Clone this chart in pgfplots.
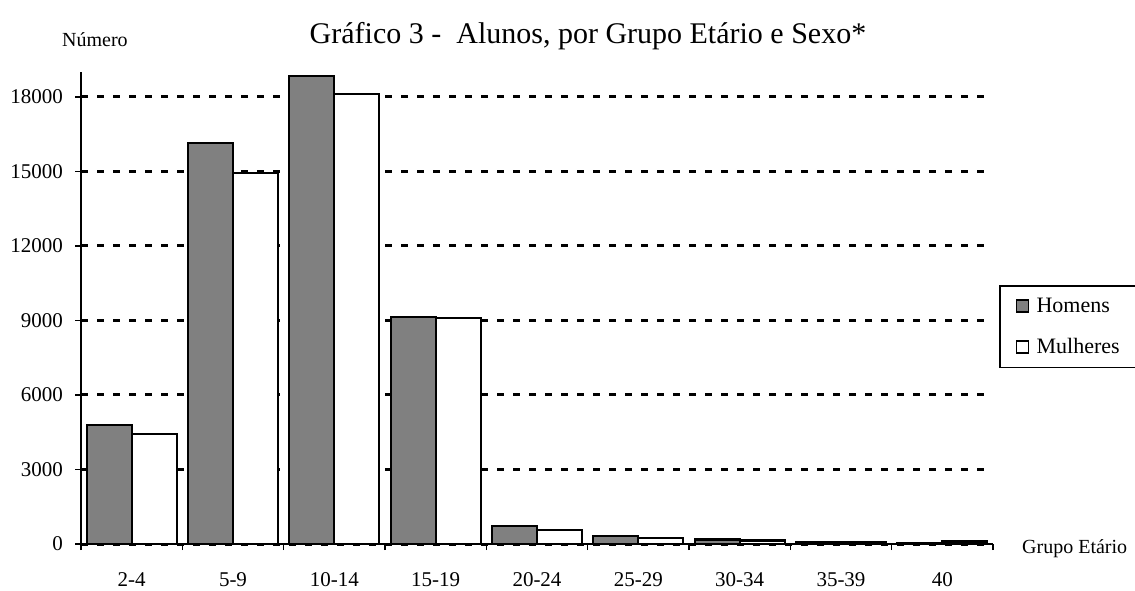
\documentclass[border=0pt]{standalone}
\usepackage{fontspec}
\setmainfont{Liberation Serif}
\usepackage{pgfplots}
\pgfplotsset{compat=1.18}
\definecolor{barGray}{RGB}{128,128,128}
\begin{document}
\begin{tikzpicture}[x=1pt,y=1pt]
\path[use as bounding box] (0,0) rectangle (1135,590);
\begin{axis}[
  at={(81pt,46pt)}, anchor=south west,
  scale only axis, width=912pt, height=472pt,
  xmin=-0.5, xmax=8.5, ymin=0, ymax=19000,
  axis x line=bottom, axis y line=left,
  axis line style={-, line width=2pt, black},
  xtick={-0.5,0.5,1.5,2.5,3.5,4.5,5.5,6.5,7.5,8.5},
  x tick label as interval,
  xticklabels={2-4,5-9,10-14,15-19,20-24,25-29,30-34,35-39,\raisebox{-5pt}{40}},
  ytick={0,3000,6000,9000,12000,15000,18000},
  scaled y ticks=false,
  tick align=inside, major tick length=6pt,
  xtick style={line width=1.5pt, black},
  ytick style={line width=1.5pt, black, xshift=-6pt},
  ymajorgrids,
  major grid style={line width=3pt, black, dash pattern=on 7pt off 9pt},
  ticklabel style={font=\fontsize{21}{25}\selectfont},
  /pgf/number format/assume math mode=true,
  /pgf/number format/1000 sep={},
  yticklabel style={inner sep=0pt, xshift=-18pt},
  xticklabel style={inner sep=0pt, anchor=north, yshift=-22pt},
  ybar=0pt, bar width=45pt,
  legend style={at={(1.0066,0.5487)}, anchor=north west, draw=black, line width=1.5pt,
    font=\fontsize{22}{26}\selectfont, inner xsep=16pt, inner ysep=10pt, row sep=21pt},
  legend cell align=left,
  legend image code/.code={\draw[#1,/tikz/.cd,line width=1.6pt] (0pt,-6pt) rectangle (12pt,6pt);
    \path[draw=none,fill=none] (12pt,0pt) -- (18pt,0pt);},
]
\addplot[fill=barGray, draw=black, line width=2.2pt] coordinates {
  (0,4800) (1,16150) (2,18850) (3,9150) (4,725) (5,320) (6,180) (7,80) (8,30)};
\addplot[fill=white, draw=black, line width=2.2pt] coordinates {
  (0,4430) (1,14940) (2,18120) (3,9100) (4,564) (5,240) (6,140) (7,80) (8,100)};
\legend{Homens,Mulheres}
\end{axis}
\node[anchor=base, font=\fontsize{30}{36}\selectfont] at (588,546) {Gráfico 3 -\ \ Alunos, por Grupo Etário e Sexo*};
\node[anchor=base west, font=\fontsize{20}{24}\selectfont, inner sep=0pt] at (62,543) {Número};
\node[anchor=base west, font=\fontsize{20}{24}\selectfont, inner sep=0pt] at (1022,37) {Grupo Etário};
\end{tikzpicture}
\end{document}
